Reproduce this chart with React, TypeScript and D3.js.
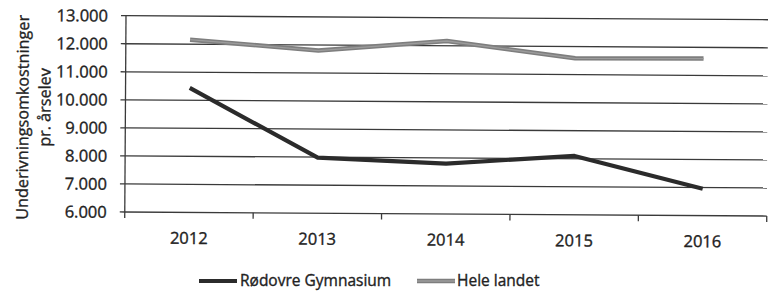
import React from "react";
import * as d3 from "d3";

const years = ["2012", "2013", "2014", "2015", "2016"];
const rodovre = [10440, 7980, 7800, 8100, 6960];
const heleLandet = [12160, 11800, 12170, 11580, 11600];
const yTicks = [6000, 7000, 8000, 9000, 10000, 11000, 12000, 13000];
const seriesNames = ["Rødovre Gymnasium", "Hele landet"];

const W = 771;
const H = 292;
const left = 126;
const right = 768;
const top = 15.7;
const bottom = 212;
const FONT = "'Open Sans', sans-serif";
const TXT = "#222";

const fmt = (v: number) => d3.format(",")(v).replace(/,/g, ".");

export default function App() {
  const x = d3.scaleBand<string>().domain(years).range([left, right]);
  const y = d3.scaleLinear().domain([6000, 13000]).range([bottom, top]);
  const line = d3
    .line<number>()
    .x((_, i) => (x(years[i]) as number) + x.bandwidth() / 2)
    .y((d) => y(d));

  const boundaries = years.map((yr) => x(yr) as number).concat([right]);
  const textProps = {
    fontFamily: FONT,
    fill: TXT,
    stroke: TXT,
    strokeWidth: 0.35,
  };

  return (
    <svg
      width={W}
      height={H}
      style={{ position: "absolute", left: 0, top: 0, background: "#fff" }}
    >
      <g transform={`rotate(0.36, ${left}, ${top})`}>
        {yTicks.map((t) => (
          <line key={t} x1={left} x2={right} y1={y(t)} y2={y(t)} stroke="#3a3a3a" strokeWidth={1.3} />
        ))}
        <line x1={left} x2={left} y1={top} y2={bottom} stroke="#3a3a3a" strokeWidth={1.3} />
        {yTicks.map((t) => (
          <line key={"yt" + t} x1={left - 5} x2={left} y1={y(t)} y2={y(t)} stroke="#3a3a3a" strokeWidth={1.3} />
        ))}
        {boundaries.map((b, i) => (
          <line key={"xt" + i} x1={b} x2={b} y1={bottom} y2={bottom + 6} stroke="#3a3a3a" strokeWidth={1.3} />
        ))}
        {yTicks.map((t) => (
          <text key={"yl" + t} x={108} y={y(t)} dy="0.36em" textAnchor="end" fontSize={16.5} {...textProps}>
            {fmt(t)}
          </text>
        ))}
        {years.map((yr) => (
          <text
            key={"xl" + yr}
            x={(x(yr) as number) + x.bandwidth() / 2}
            y={243.5}
            textAnchor="middle"
            fontSize={16.5}
            {...textProps}
          >
            {yr}
          </text>
        ))}
        <text transform={`translate(29, 118) rotate(-90)`} textAnchor="middle" fontSize={16.2} {...textProps}>
          Underivningsomkostninger
        </text>
        <text transform={`translate(51, 108) rotate(-90)`} textAnchor="middle" fontSize={16.2} {...textProps}>
          pr. årselev
        </text>
        <path d={line(heleLandet) as string} fill="none" stroke="#7e7e7e" strokeWidth={4.5} strokeLinejoin="round" />
        <path d={line(heleLandet) as string} fill="none" stroke="#9c9c9c" strokeWidth={1.3} strokeLinejoin="round" />
        <path d={line(rodovre) as string} fill="none" stroke="#2b2b2b" strokeWidth={4.2} strokeLinejoin="round" />
      </g>
      <g>
        <line x1={199} x2={237} y1={281} y2={281} stroke="#2b2b2b" strokeWidth={4.2} />
        <text x={240} y={285.5} fontSize={15.5} {...textProps}>
          {seriesNames[0]}
        </text>
        <line x1={417} x2={455} y1={281} y2={281} stroke="#7e7e7e" strokeWidth={4.5} />
        <line x1={417} x2={455} y1={281} y2={281} stroke="#9c9c9c" strokeWidth={1.3} />
        <text x={457} y={285.5} fontSize={15.5} {...textProps}>
          {seriesNames[1]}
        </text>
      </g>
    </svg>
  );
}
